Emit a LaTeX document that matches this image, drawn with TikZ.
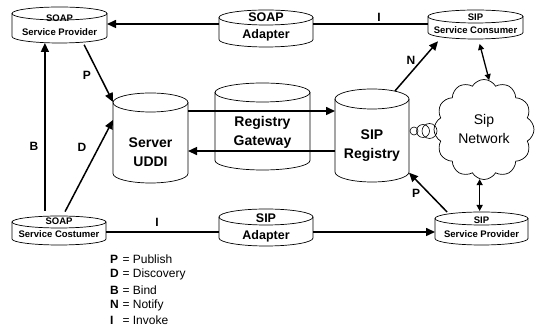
\documentclass[tikz,border=0pt]{standalone}
\usepackage{fontspec}
\setmainfont{Liberation Sans}
\usetikzlibrary{arrows.meta,calc,shapes.symbols}
\newcommand\mkdrum[6]{% name, cx, top(px), bottom(px), half width, ry
  \node[drumbox, minimum width={2*#5pt}, minimum height={(#4-#3)*1pt}] (#1) at (#2,{331-(#3+#4)/2}) {};
  \draw[drumline] ({#2-#5},{331-#3-#6}) -- ({#2-#5},{331-#4+#6})
     arc[start angle=180,end angle=360,x radius=#5pt,y radius=#6pt] -- ({#2+#5},{331-#3-#6});
  \draw[drumline] (#2,{331-#3-#6}) ellipse[x radius=#5pt,y radius=#6pt];
}
\begin{document}
\begin{tikzpicture}[x=1pt,y=1pt,
  drumline/.style={line width=0.7pt},
  drumbox/.style={inner sep=0pt,outer sep=0pt},
  conn/.style={line width=1.5pt,-{Triangle[length=9pt,width=8pt]}},
  plainline/.style={line width=1.5pt},
  dbl/.style={line width=1.3pt,{Triangle[length=6pt,width=6pt]}-{Triangle[length=6pt,width=6pt]}},
  lbl/.style={font=\fontsize{12}{14}\selectfont\bfseries},
  smalltxt/.style={font=\fontsize{9.5}{13.5}\selectfont\bfseries,align=center,inner sep=0pt},
  midtxt/.style={font=\fontsize{12.5}{17}\selectfont\bfseries,align=center,inner sep=0pt},
  bigtxt/.style={font=\fontsize{14}{19}\selectfont\bfseries,align=center,inner sep=0pt},
  bub/.style={circle,draw,line width=0.6pt,inner sep=0pt},
  leg/.style={anchor=west,inner sep=0pt,font=\fontsize{12}{14}\selectfont},
]
\useasboundingbox (0,0) rectangle (540,331);

% drums
\mkdrum{spp}{59.5}{7}{43}{47.5}{6.5}
\mkdrum{soapad}{266}{10}{47}{47}{7.5}
\mkdrum{ssc}{475.5}{10}{39}{47.5}{6.5}
\mkdrum{uddi}{150.5}{93}{183}{37.5}{9.5}
\mkdrum{gw}{262.5}{83}{170}{47.5}{9.5}
\mkdrum{sipreg}{372}{89}{182}{37}{10}
\mkdrum{sscost}{59}{216}{245}{47}{6}
\mkdrum{sipad}{266}{209}{246}{47}{8}
\mkdrum{sipsp}{481.5}{212}{245}{46.5}{6.5}

% drum texts
\node[smalltxt] (spp-t) at (59.5,{331-25}) {SOAP\\Service Provider};
\node[midtxt] (soapad-t) at (266,{331-26.5}) {SOAP\\Adapter};
\node[smalltxt] (ssc-t) at (475.5,{331-23.5}) {SIP\\Service Consumer};
\node[bigtxt] (uddi-t) at (150.5,{331-152}) {Server\\UDDI};
\node[bigtxt] (gw-t) at (262.5,{331-132}) {Registry\\Gateway};
\node[bigtxt] (sipreg-t) at (372,{331-145.5}) {SIP\\Registry};
\node[smalltxt] (sscost-t) at (59,{331-227.5}) {SOAP\\Service Costumer};
\node[midtxt] (sipad-t) at (266,{331-227.5}) {SIP\\Adapter};
\node[smalltxt] (sipsp-t) at (481.5,{331-227}) {SIP\\Service Provider};

% cloud and bubbles
\node[cloud,draw,line width=0.7pt,cloud puffs=12,cloud puff arc=120,aspect=1,
      minimum width=100pt,minimum height=100pt,inner sep=0pt,align=center,
      font=\fontsize{14}{19}\selectfont] (cloud) at (484,{331-129.5}) {Sip\\Network};
\node[bub,minimum size=8pt] (bb1) at (414,{331-131}) {};
\node[bub,minimum size=13pt] (bb2) at (423,{331-131}) {};
\node[bub,minimum size=15pt] (bb3) at (429.5,{331-131}) {};

% invoke lines
\coordinate (yI) at (0,{331-24});
\coordinate (yII) at (0,{331-232});
\draw[plainline] (ssc.west |- yI) -- (soapad.east |- yI);
\draw[conn] (soapad.west |- yI) -- (spp.east |- yI);
\draw[plainline] (sscost.east |- yII) -- (sipad.west |- yII);
\draw[conn] (sipad.east |- yII) -- (sipsp.west |- yII);

% B, D, P
\coordinate (b0) at ($(sscost.north west)!0.35!(sscost.north east)$);
\draw[conn,shorten <=5pt] (b0) -- (b0 |- spp.south);
\coordinate (d0) at ($(sscost.north west)!0.54!(sscost.north east)$);
\coordinate (d1) at ($(uddi.north west)!0.3!(uddi.south west)$);
\draw[conn,shorten <=5pt] (d0) -- (d1);
\coordinate (p0) at ($(spp.south west)!0.75!(spp.south east)$);
\coordinate (p1) at ($(uddi.north west)!0.1!(uddi.south west)$);
\draw[conn,shorten <=2pt] (p0) -- (p1);

% UDDI <-> SIP registry
\coordinate (r1) at ($(uddi.north east)!0.2!(uddi.south east)$);
\draw[conn] (r1) -- (r1 -| sipreg.west);
\coordinate (r2) at ($(sipreg.north west)!0.667!(sipreg.south west)$);
\draw[conn] (r2) -- (r2 -| uddi.east);

% N
\coordinate (n0) at ($(sipreg.north west)!0.81!(sipreg.north east)+(0,-2)$);
\coordinate (n1) at ($(ssc.south west)!0.126!(ssc.south east)$);
\draw[conn,shorten >=3pt] (n0) -- (n1);

% P bottom
\coordinate (q0) at ($(sipsp.north west)!0.13!(sipsp.north east)$);
\coordinate (q1) at ($(sipreg.north east)!0.9!(sipreg.south east)$);
\draw[conn] (q0) -- (q1);

% cloud links
\coordinate (c0) at ($(ssc.south west)!0.53!(ssc.south east)$);
\draw[dbl,shorten <=5pt] (c0) -- (cloud.84);
\coordinate (c2) at (cloud.265);
\draw[dbl,shorten >=1pt] (c2) -- (c2 |- sipsp.north);

% labels
\node[lbl] (lP1) at (87,{331-75}) {P};
\node[lbl] (lD) at (82,{331-147}) {D};
\node[lbl] (lB) at (34,{331-146}) {B};
\node[lbl] (lN) at (411,{331-60}) {N};
\node[lbl] (lI1) at (379,{331-17}) {I};
\node[lbl] (lI2) at (157,{331-222}) {I};
\node[lbl] (lP2) at (416,{331-193}) {P};

% legend
\node[leg] (g1) at (110,{331-259}) {\makebox[9pt][l]{\bfseries P} = Publish};
\node[leg] (g2) at (110,{331-274.5}) {\makebox[9pt][l]{\bfseries D} = Discovery};
\node[leg] (g3) at (110,{331-290}) {\makebox[9pt][l]{\bfseries B} = Bind};
\node[leg] (g4) at (110,{331-305}) {\makebox[9pt][l]{\bfseries N} = Notify};
\node[leg] (g5) at (110,{331-320}) {\makebox[9pt][l]{\bfseries I} = Invoke};
\end{tikzpicture}
\end{document}
